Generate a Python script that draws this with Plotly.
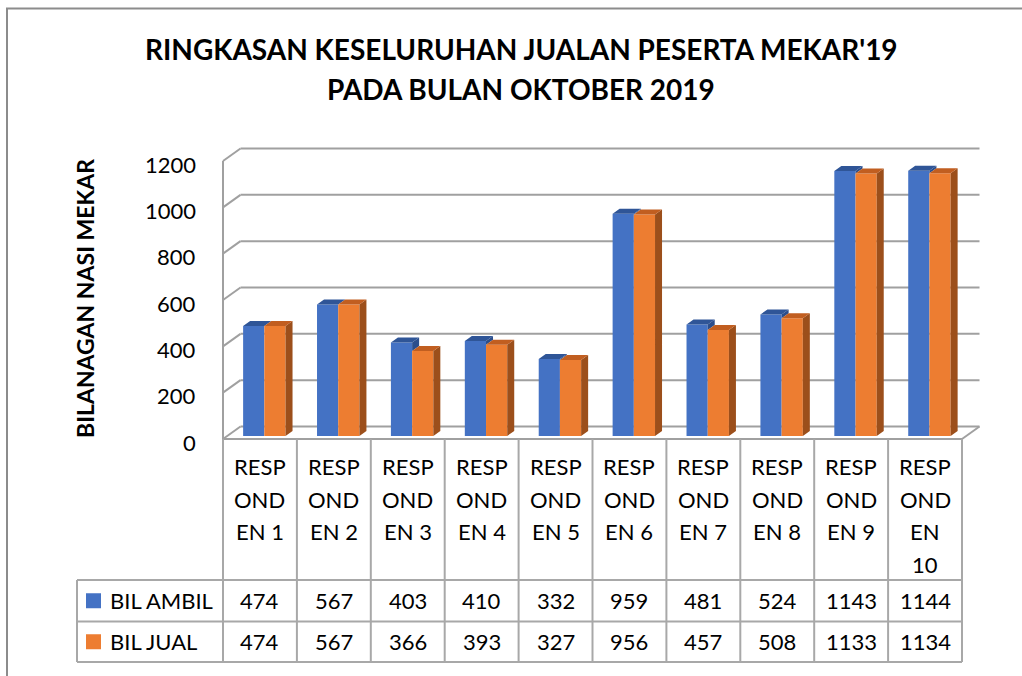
import plotly.graph_objects as go

# ---- data -------------------------------------------------------------
categories = ["RESPONDEN 1", "RESPONDEN 2", "RESPONDEN 3", "RESPONDEN 4",
              "RESPONDEN 5", "RESPONDEN 6", "RESPONDEN 7", "RESPONDEN 8",
              "RESPONDEN 9", "RESPONDEN 10"]
category_labels = ["RESP<br>OND<br>EN 1", "RESP<br>OND<br>EN 2", "RESP<br>OND<br>EN 3",
                   "RESP<br>OND<br>EN 4", "RESP<br>OND<br>EN 5", "RESP<br>OND<br>EN 6",
                   "RESP<br>OND<br>EN 7", "RESP<br>OND<br>EN 8", "RESP<br>OND<br>EN 9",
                   "RESP<br>OND<br>EN<br>10"]
series_names = ["BIL AMBIL", "BIL JUAL"]
bil_ambil = [474, 567, 403, 410, 332, 959, 481, 524, 1143, 1144]
bil_jual = [474, 567, 366, 393, 327, 956, 457, 508, 1133, 1134]
y_ticks = [0, 200, 400, 600, 800, 1000, 1200]

title_lines = ["RINGKASAN KESELURUHAN JUALAN PESERTA MEKAR'19",
               "PADA BULAN OKTOBER 2019"]
y_title = "BILANAGAN NASI MEKAR"

# ---- colours ----------------------------------------------------------
FRONT = ["#4472C4", "#ED7D31"]
TOP = ["#2F5597", "#C15E20"]
SIDE = ["#2B4E8C", "#9C4F1B"]
GRID = "#A0A0A0"
TABLE = "#A8A8A8"
FONT = "Lato"

# ---- geometry of the 3-D frame (pixels) -------------------------------
W, H = 1022, 676
X0, CAT = 223.0, 73.9          # front-left corner, width of one category
Y0, VAL = 439.0, 278.0 / 1200  # front floor line, pixels per unit
DEPTH_PX_X, DEPTH_PX_Y = 17.5, 12.5
DXC = DEPTH_PX_X / CAT         # depth offset in category units
DYV = DEPTH_PX_Y / VAL         # depth offset in value units
BAR_D0, BAR_D1 = 0.25, 0.65    # depth span of the columns
BAR_W = 0.287                  # column width in category units


def px_x(p):
    return (p - X0) / CAT


def px_y(p):
    return (Y0 - p) / VAL


n = len(categories)
series = [bil_ambil, bil_jual]

fig = go.Figure()
shapes = []
annotations = []


def line(x0, y0, x1, y1, color=GRID, width=2, layer="below"):
    shapes.append(dict(type="line", xref="x", yref="y", x0=x0, y0=y0, x1=x1, y1=y1,
                       line=dict(color=color, width=width), layer=layer))


# back wall gridlines and left-wall diagonals
for v in y_ticks:
    line(DXC, v + DYV, n + DXC, v + DYV)
    line(0, v, DXC, v + DYV)
# front value axis and floor
line(0, 0, 0, y_ticks[-1])
line(0, 0, n, 0)
line(n, 0, n + DXC, DYV)

# ---- columns ----------------------------------------------------------
base = BAR_D0 * DYV
ddx = (BAR_D1 - BAR_D0) * DXC
ddy = (BAR_D1 - BAR_D0) * DYV
centres = [i + 0.5 + BAR_D0 * DXC for i in range(n)]


def poly_trace(xs, ys, color):
    return go.Scatter(x=xs, y=ys, mode="lines", fill="toself", fillcolor=color,
                      line=dict(width=0, color=color), hoverinfo="skip",
                      showlegend=False)


for s, vals in enumerate(series):
    offs = -BAR_W / 2 if s == 0 else BAR_W / 2
    xs_c = [c + offs for c in centres]
    fig.add_trace(go.Bar(x=xs_c, y=vals, base=[base] * n, width=BAR_W,
                         marker=dict(color=FRONT[s], line=dict(width=0)),
                         name=series_names[s], showlegend=False))

# top and side faces (drawn above the bar layer)
for s, vals in enumerate(series):
    offs = -BAR_W / 2 if s == 0 else BAR_W / 2
    tx, ty, sx, sy = [], [], [], []
    for i, v in enumerate(vals):
        xl = centres[i] + offs - BAR_W / 2
        xr = xl + BAR_W
        t = base + v
        tx += [xl, xr, xr + ddx, xl + ddx, xl, None]
        ty += [t, t, t + ddy, t + ddy, t, None]
        if s == 0:
            # only the part above the neighbouring column shows
            low = base + series[1][i]
            if v > series[1][i]:
                sx += [xr, xr, xr + ddx, xr + ddx, xr, None]
                sy += [low, t, t + ddy, low + ddy, low, None]
        else:
            sx += [xr, xr, xr + ddx, xr + ddx, xr, None]
            sy += [base, t, t + ddy, base + ddy, base, None]
    if sx:
        fig.add_trace(poly_trace(sx, sy, SIDE[s]))
    fig.add_trace(poly_trace(tx, ty, TOP[s]))

# ---- value-axis labels ------------------------------------------------
for v in y_ticks:
    annotations.append(dict(x=px_x(198), y=v, xref="x", yref="y", text=str(v),
                            showarrow=False, xanchor="right", yanchor="middle",
                            yshift=-3, font=dict(family=FONT, size=22, color="#000")))

annotations.append(dict(x=px_x(85), y=px_y(299), xref="x", yref="y", text=y_title,
                        showarrow=False, textangle=-90,
                        font=dict(family=FONT, size=23, color="#000", weight="bold")))

# ---- title --------------------------------------------------------------
for k, t in enumerate(title_lines):
    annotations.append(dict(x=px_x(521), y=px_y(49 + 40 * k), xref="x", yref="y",
                            text=t, showarrow=False,
                            font=dict(family=FONT, size=28, color="#000", weight="bold")))

# ---- data table -------------------------------------------------------
row_lines = [580, 621.5, 662]
for i in range(n + 1):
    line(i, 0, i, px_y(row_lines[-1]), color=TABLE, layer="above")
for r in row_lines:
    line(px_x(77), px_y(r), n, px_y(r), color=TABLE, layer="above")
line(px_x(77), px_y(row_lines[0]), px_x(77), px_y(row_lines[-1]), color=TABLE, layer="above")

for i, lab in enumerate(category_labels):
    for k, part in enumerate(lab.split("<br>")):
        annotations.append(dict(x=i + 0.5, y=px_y(466.5 + 32.5 * k), xref="x", yref="y",
                                text=part, showarrow=False,
                                font=dict(family=FONT, size=22, color="#000")))

for s, vals in enumerate(series):
    yc = (row_lines[s] + row_lines[s + 1]) / 2
    shapes.append(dict(type="rect", xref="x", yref="y",
                       x0=px_x(86), x1=px_x(101), y0=px_y(yc - 7.5), y1=px_y(yc + 7.5),
                       fillcolor=FRONT[s], line=dict(width=0)))
    annotations.append(dict(x=px_x(108), y=px_y(yc), xref="x", yref="y",
                            text=series_names[s], showarrow=False, xanchor="left",
                            font=dict(family=FONT, size=22, color="#000")))
    for i, v in enumerate(vals):
        annotations.append(dict(x=i + 0.5, y=px_y(yc), xref="x", yref="y", text=str(v),
                                showarrow=False,
                                font=dict(family=FONT, size=22, color="#000")))

# ---- chart-area border --------------------------------------------------
shapes.append(dict(type="path", xref="paper", yref="paper",
                   path=f"M {7 / W} 0 L {7 / W} {1 - 8.5 / H} L 1 {1 - 8.5 / H}",
                   line=dict(color="#8C8C8C", width=2)))

fig.update_layout(
    width=W, height=H,
    margin=dict(l=0, r=0, t=0, b=0),
    paper_bgcolor="white", plot_bgcolor="white",
    barmode="overlay",
    showlegend=False,
    xaxis=dict(range=[px_x(0), px_x(W)], visible=False, fixedrange=True),
    yaxis=dict(range=[px_y(H), px_y(0)], visible=False, fixedrange=True),
    shapes=shapes,
    annotations=annotations,
)

fig.write_html("out.html")
